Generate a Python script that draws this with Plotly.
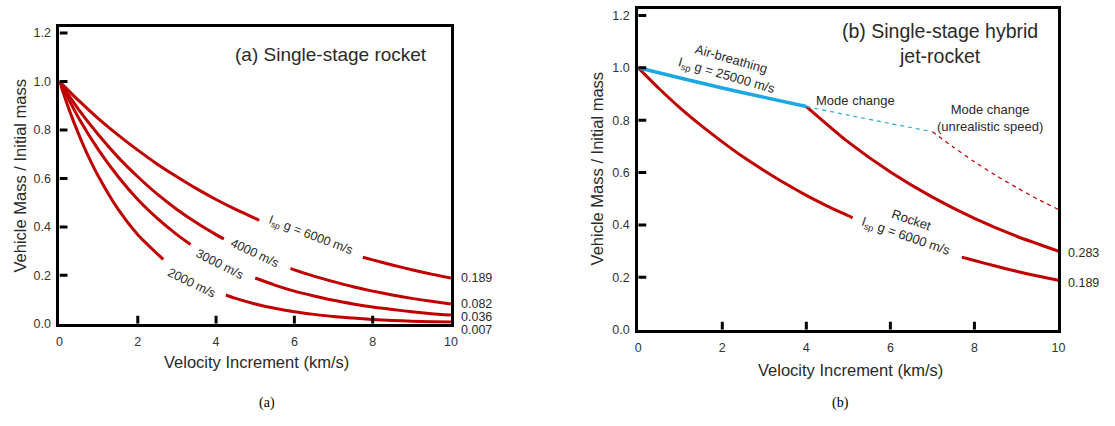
import plotly.graph_objects as go

# ---------------- data ----------------
# Panel (a): single-stage rocket, mass ratio vs velocity increment (gaps where labels sit)
a6000_x = [0, 0.5, 1, 1.5, 2, 2.5, 3, 3.5, 4, 4.5, 5, 5.1, None, 7.75, 8, 8.5, 9, 9.5, 10]
a6000_y = [1, 0.920, 0.846, 0.779, 0.717, 0.659, 0.607, 0.558, 0.513, 0.472, 0.435, 0.427, None,
           0.275, 0.264, 0.243, 0.223, 0.205, 0.189]
a4000_x = [0, 0.5, 1, 1.5, 2, 2.5, 3, 3.5, 4, 4.2, None, 5.9, 6, 6.5, 7, 7.5, 8, 8.5, 9, 9.5, 10]
a4000_y = [1, 0.882, 0.779, 0.687, 0.607, 0.535, 0.472, 0.417, 0.368, 0.350, None,
           0.229, 0.223, 0.197, 0.174, 0.153, 0.135, 0.119, 0.105, 0.093, 0.082]
a3000_x = [0, 0.5, 1, 1.5, 2, 2.5, 3, 3.35, None, 5.0, 5.5, 6, 6.5, 7, 7.5, 8, 8.5, 9, 9.5, 10]
a3000_y = [1, 0.846, 0.717, 0.607, 0.513, 0.435, 0.368, 0.327, None,
           0.189, 0.160, 0.135, 0.115, 0.097, 0.082, 0.069, 0.059, 0.050, 0.042, 0.036]
a2000_x = [0, 0.25, 0.5, 0.75, 1, 1.5, 2, 2.65, None, 4.25, 4.5, 5, 5.5, 6, 6.5, 7, 7.5, 8, 8.5, 9, 9.5, 10]
a2000_y = [1, 0.882, 0.779, 0.687, 0.607, 0.472, 0.368, 0.266, None,
           0.119, 0.105, 0.082, 0.064, 0.050, 0.039, 0.030, 0.024, 0.018, 0.014, 0.011, 0.009, 0.007]
a_end_labels = ["0.189", "0.082", "0.036", "0.007"]
a_end_values = [0.189, 0.082, 0.036, 0.007]

# Panel (b): single-stage hybrid jet-rocket
b_air_x = [0, 1, 2, 3, 4]
b_air_y = [1, 0.961, 0.923, 0.887, 0.852]
b_air_dash_x = [4, 5, 6, 7]
b_air_dash_y = [0.852, 0.819, 0.787, 0.756]
b_rocket_x = [0, 0.5, 1, 1.5, 2, 2.5, 3, 3.5, 4, 4.5, 5, 5.1, None, 7.7, 8, 8.5, 9, 9.5, 10]
b_rocket_y = [1, 0.920, 0.846, 0.779, 0.717, 0.659, 0.607, 0.558, 0.513, 0.472, 0.435, 0.427, None,
              0.277, 0.264, 0.243, 0.223, 0.205, 0.189]
b_hybrid_x = [4, 5, 6, 7, 8, 9, 10]
b_hybrid_y = [0.852, 0.716, 0.602, 0.506, 0.425, 0.357, 0.300]
b_hybrid_dash_x = [7, 7.5, 8, 8.5, 9, 9.5, 10]
b_hybrid_dash_y = [0.756, 0.697, 0.641, 0.590, 0.543, 0.499, 0.459]
b_end_labels = ["0.283", "0.189"]
b_end_values = [0.300, 0.189]

x_ticks = [0, 2, 4, 6, 8, 10]
y_ticks = [0.0, 0.2, 0.4, 0.6, 0.8, 1.0, 1.2]

# ---------------- styling ----------------
RED = "#C00000"
BLUE = "#1AA7E4"
FONT = "Liberation Sans, Arial, sans-serif"
TXT = "#2a2a2a"
W, H = 1115, 426
TICKLEN = 8

fig = go.Figure()

def line(x, y, xa, ya, color, width, dash="solid"):
    fig.add_trace(go.Scatter(x=x, y=y, xaxis=xa, yaxis=ya, mode="lines",
                             line=dict(color=color, width=width, dash=dash, shape="spline", smoothing=0.6),
                             connectgaps=False, hoverinfo="skip", showlegend=False))

for xs, ys in [(a6000_x, a6000_y), (a4000_x, a4000_y), (a3000_x, a3000_y), (a2000_x, a2000_y)]:
    line(xs, ys, "x", "y", RED, 3)

line(b_rocket_x, b_rocket_y, "x2", "y2", RED, 3)
line(b_hybrid_x, b_hybrid_y, "x2", "y2", RED, 3)
line(b_hybrid_dash_x, b_hybrid_dash_y, "x2", "y2", RED, 1.2, "4px,4px")
line(b_air_dash_x, b_air_dash_y, "x2", "y2", BLUE, 1.2, "4px,4px")
line(b_air_x, b_air_y, "x2", "y2", BLUE, 3.5)

# axes
def xax(domain, anchor):
    return dict(domain=domain, anchor=anchor, range=[0, 10], tickvals=x_ticks,
                ticks="", showline=True, linewidth=3, linecolor="black", mirror=True,
                showgrid=False, zeroline=False, ticklabelstandoff=4,
                tickfont=dict(family=FONT, size=12.5, color="#333"))

def yax(domain, anchor, top):
    return dict(domain=domain, anchor=anchor, range=[0, top], tickvals=y_ticks, tickformat=".1f",
                ticks="", showline=True, linewidth=3, linecolor="black", mirror=True,
                showgrid=False, zeroline=False, ticklabelstandoff=3,
                tickfont=dict(family=FONT, size=12.5, color="#333"))

fig.update_layout(
    width=W, height=H, margin=dict(l=0, r=0, t=0, b=0),
    paper_bgcolor="white", plot_bgcolor="white",
    xaxis=xax([57 / W, 452 / W], "y"),
    yaxis=yax([(H - 329) / H, (H - 27) / H], "x", 1.223),
    xaxis2=xax([641 / W, 1065 / W], "y2"),
    yaxis2=yax([(H - 335) / H, (H - 8) / H], "x2", 1.225),
)

# inward tick marks drawn from the tick lists
shapes = []
for xr, yr in [("x", "y"), ("x2", "y2")]:
    for t in x_ticks[1:-1]:
        shapes.append(dict(type="line", xref=xr, yref=yr, x0=t, x1=t, ysizemode="pixel", yanchor=0,
                           y0=0, y1=TICKLEN, line=dict(color="black", width=3)))
    for t in y_ticks[1:]:
        shapes.append(dict(type="line", xref=xr, yref=yr, y0=t, y1=t, xsizemode="pixel", xanchor=0,
                           x0=0, x1=TICKLEN, line=dict(color="black", width=3)))
fig.update_layout(shapes=shapes)

ann = []
def txt(text, x, y, xref, yref, size=12.5, angle=0, color=TXT, family=FONT, **kw):
    d = dict(text=text, x=x, y=y, xref=xref, yref=yref, showarrow=False, textangle=angle,
             xanchor="center", yanchor="middle",
             font=dict(family=family, size=size, color=color))
    d.update(kw)
    ann.append(d)

# titles
txt("(a) Single-stage rocket", 9.45, 1.11, "x", "y", size=19, xanchor="right")
txt("(b) Single-stage hybrid<br>jet-rocket", 7.17, 1.092, "x2", "y2", size=19.5)

# curve labels, panel (a)
txt("I<sub>sp</sub> g = 6000 m/s", 6.42, 0.362, "x", "y", angle=21)
txt("4000 m/s", 4.98, 0.292, "x", "y", angle=25)
txt("3000 m/s", 4.08, 0.247, "x", "y", angle=27)
txt("2000 m/s", 3.38, 0.170, "x", "y", angle=26)

# end value labels
shifts_a = [0, 0, -2, -8]
for lab, v, s in zip(a_end_labels, a_end_values, shifts_a):
    txt(lab, 10, v, "x", "y", xanchor="left", xshift=8, yshift=s)
shifts_b = [-2, -3]
for lab, v, s in zip(b_end_labels, b_end_values, shifts_b):
    txt(lab, 10, v, "x2", "y2", xanchor="left", xshift=8, yshift=s)

# curve labels, panel (b)
txt("Air-breathing<br>I<sub>sp</sub> g = 25000 m/s", 2.15, 1.0, "x2", "y2", size=13, angle=16)
txt("Mode change", 5.17, 0.874, "x2", "y2", size=13)
txt("Mode change<br>(unrealistic speed)", 8.37, 0.809, "x2", "y2", size=13)
txt("Rocket<br>I<sub>sp</sub> g = 6000 m/s", 6.44, 0.384, "x2", "y2", size=13, angle=19)

# axis titles
txt("Velocity Increment (km/s)", 256 / W, 1 - 368 / H, "paper", "paper", size=16.5)
txt("Velocity Increment (km/s)", 855 / W, 1 - 376 / H, "paper", "paper", size=16.5)
txt("Vehicle Mass / Initial mass", 17 / W, 1 - 178 / H, "paper", "paper", size=16.5, angle=-90)
txt("Vehicle Mass / Initial mass", 599 / W, 1 - 171 / H, "paper", "paper", size=16.5, angle=-90)

# captions
txt("(a)", 266 / W, 1 - 410 / H, "paper", "paper", size=14, color="black",
    family="Liberation Serif, DejaVu Serif, serif")
txt("(b)", 845 / W, 1 - 410 / H, "paper", "paper", size=14, color="black",
    family="Liberation Serif, DejaVu Serif, serif")

fig.update_layout(annotations=ann)
fig.write_html("out.html")
